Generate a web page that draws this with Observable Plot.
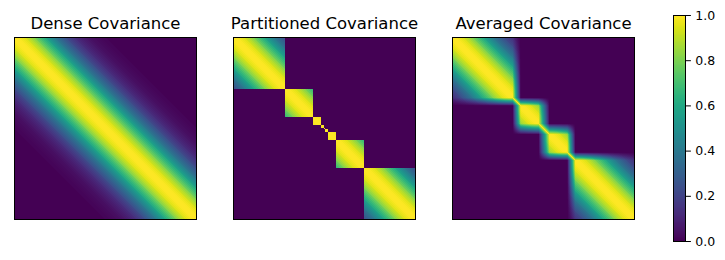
<!DOCTYPE html>
<html>
<head>
<meta charset="utf-8">
<script src="https://cdn.jsdelivr.net/npm/d3@7"></script>
<script src="https://cdn.jsdelivr.net/npm/@observablehq/plot@0.6"></script>
<style>
html, body { margin: 0; padding: 0; background: #fff; }
#chart { position: relative; width: 725px; height: 260px; background: #fff; overflow: hidden; font-family: "DejaVu Sans", sans-serif; }
#chart svg { position: absolute; top: 0; max-width: none; }
</style>
</head>
<body>
<div id="chart"></div>
<script>
// ---- data ----
const panelTitles = ["Dense Covariance", "Partitioned Covariance", "Averaged Covariance"];

// covariance as a function of normalized distance |i - j| (step 0.01)
const kernelStep = 0.01;
const kernelValues = [
  1.000, 0.998, 0.993, 0.984, 0.971, 0.955, 0.936, 0.914, 0.889, 0.862,
  0.832, 0.801, 0.768, 0.733, 0.698, 0.662, 0.625, 0.588, 0.552, 0.515,
  0.480, 0.445, 0.411, 0.379, 0.347, 0.317, 0.289, 0.262, 0.237, 0.213,
  0.191, 0.171, 0.152, 0.135, 0.120, 0.105, 0.093, 0.081, 0.070, 0.061,
  0.053, 0.046, 0.039, 0.034, 0.029, 0.024, 0.021, 0.017, 0.015, 0.012,
  0.010
];

// block edges of the partitioned covariance (normalized)
const partitionBreaks = [0, 0.282, 0.436, 0.479, 0.496, 0.502, 0.519, 0.562, 0.716, 1];

// block edges of the averaged covariance and the half-width of each soft inner edge
const averagedBreaks = [0, 0.35, 0.5, 0.65, 1];
const averagedBlur = [0.022, 0.03, 0.022];

const colorTicks = [0, 0.2, 0.4, 0.6, 0.8, 1.0];

// ---- matrix lookups ----
function kernel(d) {
  const i = Math.round(Math.abs(d) / kernelStep);
  return i < kernelValues.length ? kernelValues[i] : 0;
}
function blockOf(v, breaks) {
  let k = 0;
  while (k < breaks.length - 2 && v >= breaks[k + 1]) k++;
  return k;
}
const panelFills = [
  (x, y) => kernel(x - y),
  (x, y) => blockOf(x, partitionBreaks) === blockOf(y, partitionBreaks) ? kernel(x - y) : 0,
  (x, y) => {
    const lo = Math.min(x, y), hi = Math.max(x, y);
    let p = 1;
    averagedBreaks.slice(1, -1).forEach((b, k) => {
      const w = averagedBlur[k];
      const ov = Math.max(0, Math.min(hi, b + w) - Math.max(lo, b - w));
      p *= 1 - ov / (2 * w);
    });
    return kernel(x - y) * p;
  }
];

const chart = document.getElementById("chart");
const panelLefts = [4, 223, 442];
const N = 182;

panelTitles.forEach((title, k) => {
  const svg = Plot.plot({
    width: N + 20,
    height: 37 + N + 2,
    marginLeft: 10, marginRight: 10, marginTop: 37, marginBottom: 2,
    style: { background: "white", color: "black", fontFamily: "DejaVu Sans" },
    x: { domain: [0, 1], axis: null },
    y: { domain: [0, 1], reverse: true, axis: null },
    color: { type: "linear", scheme: "viridis", domain: [0, 1] },
    marks: [
      Plot.raster({ x1: 0, x2: 1, y1: 0, y2: 1, width: N, height: N, fill: panelFills[k], imageRendering: "pixelated" }),
      Plot.frame({ stroke: "black", strokeWidth: 1 }),
      Plot.text([title], { frameAnchor: "top", lineAnchor: "middle", dy: -13.3, text: (d) => d, fontSize: 16.5, fill: "black" })
    ]
  });
  svg.style.left = panelLefts[k] + "px";
  chart.appendChild(svg);
});

// colorbar
const cbar = Plot.plot({
  width: 65,
  height: 260,
  marginLeft: 13, marginRight: 40, marginTop: 15, marginBottom: 19,
  style: { background: "white", color: "black", fontFamily: "DejaVu Sans" },
  x: { domain: [0, 1], axis: null },
  y: { domain: [0, 1], axis: null },
  color: { type: "linear", scheme: "viridis", domain: [0, 1] },
  marks: [
    Plot.raster({ x1: 0, x2: 1, y1: 0, y2: 1, width: 1, height: 226, fill: (x, y) => y }),
    Plot.frame({ stroke: "black", strokeWidth: 1 }),
    Plot.axisY(colorTicks, { anchor: "right", tickFormat: d3.format(".1f"), tickSize: 4.9, tickPadding: 4.9, fontSize: 12.5, label: null, fill: "black", stroke: "black" })
  ]
});
cbar.style.left = "660px";
chart.appendChild(cbar);
</script>
</body>
</html>
